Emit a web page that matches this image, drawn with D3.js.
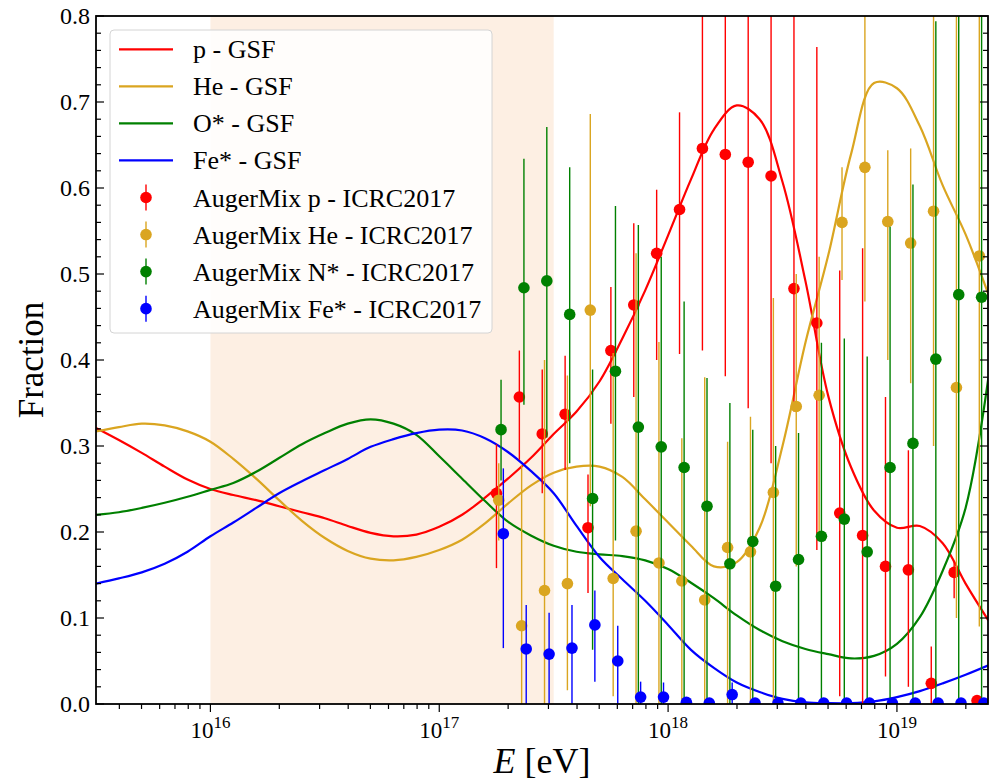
<!DOCTYPE html>
<html>
<head>
<meta charset="utf-8">
<script src="https://cdn.jsdelivr.net/npm/d3@7/dist/d3.min.js"></script>
<style>
  body { margin: 0; background: #fff; }
  text { font-family: "Liberation Serif", "Times New Roman", serif; fill: #000; }
</style>
</head>
<body>
<svg id="chart" width="997" height="780"></svg>
<script>
// ---- GSF model fractions, sampled on a log10(E/eV) grid ----
const gsfLgE = [15.5, 15.6, 15.7, 15.8, 15.9, 16.0, 16.1, 16.2, 16.3, 16.4,
                16.5, 16.6, 16.7, 16.8, 16.9, 17.0, 17.1, 17.2, 17.3, 17.4,
                17.5, 17.6, 17.7, 17.8, 17.9, 18.0, 18.1, 18.2, 18.3, 18.4,
                18.5, 18.6, 18.7, 18.8, 18.9, 19.0, 19.1, 19.2, 19.3, 19.4];
const gsfP  = [0.321, 0.307, 0.292, 0.276, 0.261, 0.250, 0.243, 0.237, 0.230, 0.223,
               0.216, 0.207, 0.199, 0.195, 0.197, 0.206, 0.220, 0.240, 0.262, 0.286,
               0.314, 0.340, 0.375, 0.425, 0.481, 0.545, 0.610, 0.668, 0.696, 0.680,
               0.607, 0.492, 0.358, 0.275, 0.225, 0.205, 0.207, 0.187, 0.140, 0.097];
const gsfHe = [0.317, 0.322, 0.326, 0.324, 0.317, 0.305, 0.285, 0.262, 0.237, 0.213,
               0.193, 0.178, 0.169, 0.167, 0.171, 0.179, 0.191, 0.210, 0.233, 0.254,
               0.269, 0.276, 0.276, 0.264, 0.238, 0.211, 0.184, 0.160, 0.165, 0.205,
               0.300, 0.420, 0.522, 0.640, 0.722, 0.716, 0.672, 0.603, 0.546, 0.476];
const gsfO  = [0.220, 0.223, 0.228, 0.234, 0.241, 0.249, 0.257, 0.270, 0.286, 0.302,
               0.315, 0.326, 0.331, 0.326, 0.313, 0.288, 0.262, 0.236, 0.212, 0.196,
               0.184, 0.177, 0.174, 0.172, 0.167, 0.157, 0.141, 0.123, 0.103, 0.086,
               0.073, 0.064, 0.058, 0.053, 0.056, 0.070, 0.101, 0.155, 0.228, 0.380];
const gsfFe = [0.140, 0.146, 0.153, 0.163, 0.177, 0.195, 0.211, 0.228, 0.245, 0.259,
               0.272, 0.285, 0.299, 0.308, 0.315, 0.319, 0.318, 0.309, 0.293, 0.271,
               0.245, 0.207, 0.171, 0.145, 0.120, 0.092, 0.063, 0.042, 0.025, 0.014,
               0.006, 0.002, 0.001, 0.001, 0.003, 0.008, 0.015, 0.024, 0.034, 0.045];

// ---- AugerMix (ICRC2017) fractions per energy bin ----
const binLgE = [17.25, 17.35, 17.45, 17.55, 17.65, 17.75, 17.85, 17.95, 18.05, 18.15, 18.25,
                18.35, 18.45, 18.55, 18.65, 18.75, 18.85, 18.95, 19.05, 19.15, 19.25, 19.35];

const augerP    = [0.245, 0.357, 0.314, 0.337, 0.205, 0.411, 0.464, 0.524, 0.575, 0.646, 0.639,
                   0.630, 0.614, 0.483, 0.443, 0.222, 0.196, 0.160, 0.156, 0.024, 0.153, 0.004];
const augerPLo  = [0.158, 0.284, 0.245, 0.272, 0.129, 0.326, 0.357, 0.400, 0.407, 0.411, 0.381,
                   0.344, 0.280, 0.340, 0.179, 0.009, 0.000, 0.032, 0.020, 0.000, 0.123, 0.000];
const augerPHi  = [0.302, 0.411, 0.389, 0.405, 0.267, 0.485, 0.559, 0.598, 0.688, 0.900, 0.900,
                   0.900, 0.900, 0.900, 0.764, 0.504, 0.530, 0.357, 0.295, 0.067, 0.166, 0.010];

const augerHe   = [0.237, 0.091, 0.132, 0.140, 0.458, 0.146, 0.201, 0.164, 0.143, 0.121, 0.182,
                   0.177, 0.246, 0.346, 0.359, 0.560, 0.624, 0.561, 0.536, 0.573, 0.368, 0.521];
const augerHeLo = [0.190, 0.000, 0.000, 0.016, 0.230, 0.009, 0.000, 0.000, 0.000, 0.000, 0.000,
                   0.000, 0.000, 0.160, 0.200, 0.493, 0.468, 0.400, 0.373, 0.300, 0.100, 0.090];
const augerHeHi = [0.280, 0.278, 0.400, 0.382, 0.686, 0.408, 0.524, 0.421, 0.309, 0.380, 0.305,
                   0.334, 0.472, 0.500, 0.520, 0.624, 0.900, 0.644, 0.646, 0.900, 0.900, 0.900];

const augerN    = [0.319, 0.484, 0.492, 0.453, 0.239, 0.387, 0.322, 0.299, 0.275, 0.230, 0.163,
                   0.189, 0.137, 0.168, 0.195, 0.215, 0.177, 0.275, 0.303, 0.401, 0.476, 0.473];
const augerNLo  = [0.260, 0.348, 0.310, 0.280, 0.063, 0.190, 0.000, 0.000, 0.000, 0.000, 0.000,
                   0.000, 0.000, 0.000, 0.000, 0.000, 0.000, 0.000, 0.000, 0.000, 0.000, 0.000];
const augerNHi  = [0.377, 0.634, 0.671, 0.624, 0.389, 0.579, 0.557, 0.520, 0.468, 0.379, 0.350,
                   0.319, 0.300, 0.315, 0.420, 0.425, 0.404, 0.555, 0.604, 0.794, 0.900, 0.900];

const augerFe   = [0.198, 0.064, 0.058, 0.065, 0.092, 0.050, 0.008, 0.008, 0.002, 0.001, 0.011,
                   0.001, 0.001, 0.001, 0.001, 0.001, 0.001, 0.001, 0.001, 0.001, 0.001, 0.001];
const augerFeLo = [0.065, 0.000, 0.000, 0.000, 0.026, 0.000, 0.000, 0.000, 0.000, 0.000, 0.000,
                   0.000, 0.000, 0.000, 0.000, 0.000, 0.000, 0.000, 0.000, 0.000, 0.000, 0.000];
const augerFeHi = [0.274, 0.115, 0.106, 0.115, 0.132, 0.091, 0.026, 0.025, 0.008, 0.006, 0.025,
                   0.005, 0.004, 0.004, 0.004, 0.004, 0.004, 0.004, 0.004, 0.004, 0.004, 0.004];

const yTicks = [0.0, 0.1, 0.2, 0.3, 0.4, 0.5, 0.6, 0.7, 0.8];
const xDecades = [16, 17, 18, 19];
const bandLgE = [16.0, 17.5];   // shaded energy band

// ---- layout ----
const svg = d3.select("#chart");
const M = { left: 96, right: 988, top: 16, bottom: 704 };
const x = d3.scaleLog().domain([Math.pow(10, 15.5), 2.5e19]).range([M.left, M.right]);
const y = d3.scaleLinear().domain([0, 0.8]).range([M.bottom, M.top]);

svg.append("defs").append("clipPath").attr("id", "plotClip")
  .append("rect").attr("x", M.left).attr("y", M.top)
  .attr("width", M.right - M.left).attr("height", M.bottom - M.top);

// shaded band
svg.append("rect")
  .attr("x", x(Math.pow(10, bandLgE[0]))).attr("y", M.top)
  .attr("width", x(Math.pow(10, bandLgE[1])) - x(Math.pow(10, bandLgE[0])))
  .attr("height", M.bottom - M.top)
  .attr("fill", "#fdefe3");

const plot = svg.append("g").attr("clip-path", "url(#plotClip)");

// GSF curves
const curves = [
  { vals: gsfP,  color: "#ff0000", label: "p - GSF" },
  { vals: gsfHe, color: "#daa520", label: "He - GSF" },
  { vals: gsfO,  color: "#008000", label: "O* - GSF" },
  { vals: gsfFe, color: "#0000ff", label: "Fe* - GSF" }
];
const line = d3.line()
  .x(d => x(Math.pow(10, d[0])))
  .y(d => y(d[1]))
  .curve(d3.curveCatmullRom.alpha(0.5));
curves.forEach(c => {
  plot.append("path")
    .attr("d", line(gsfLgE.map((e, i) => [e, c.vals[i]])))
    .attr("fill", "none").attr("stroke", c.color).attr("stroke-width", 2.2);
});

// AugerMix points with error bars (small lgE dodge per species)
const series = [
  { v: augerP,  lo: augerPLo,  hi: augerPHi,  color: "#ff0000", dodge: 0.000, label: "AugerMix p - ICRC2017" },
  { v: augerHe, lo: augerHeLo, hi: augerHeHi, color: "#daa520", dodge: 0.010, label: "AugerMix He - ICRC2017" },
  { v: augerN,  lo: augerNLo,  hi: augerNHi,  color: "#008000", dodge: 0.020, label: "AugerMix N* - ICRC2017" },
  { v: augerFe, lo: augerFeLo, hi: augerFeHi, color: "#0000ff", dodge: 0.030, label: "AugerMix Fe* - ICRC2017" }
];
series.forEach(s => {
  const g = plot.append("g");
  const pts = binLgE.map((e, i) => ({ x: x(Math.pow(10, e + s.dodge)), v: s.v[i], lo: s.lo[i], hi: s.hi[i] }));
  g.selectAll("line").data(pts).join("line")
    .attr("x1", d => d.x).attr("x2", d => d.x)
    .attr("y1", d => y(d.lo)).attr("y2", d => y(d.hi))
    .attr("stroke", s.color).attr("stroke-width", 1.4);
  g.selectAll("circle").data(pts).join("circle")
    .attr("cx", d => d.x).attr("cy", d => y(d.v)).attr("r", 5.8)
    .attr("fill", s.color);
});

// ---- axes frame and ticks ----
const axis = svg.append("g");
axis.append("rect").attr("x", M.left).attr("y", M.top)
  .attr("width", M.right - M.left).attr("height", M.bottom - M.top)
  .attr("fill", "none").attr("stroke", "#000").attr("stroke-width", 1.8);

// y ticks, inward on both sides
const yMinor = d3.range(0, 41).map(i => i * 0.02);
yMinor.forEach(v => {
  const major = Math.abs(v * 10 - Math.round(v * 10)) < 1e-6;
  const len = major ? 8 : 5;
  axis.append("line").attr("x1", M.left).attr("x2", M.left + len)
    .attr("y1", y(v)).attr("y2", y(v)).attr("stroke", "#000").attr("stroke-width", 1.2);
  axis.append("line").attr("x1", M.right).attr("x2", M.right - len)
    .attr("y1", y(v)).attr("y2", y(v)).attr("stroke", "#000").attr("stroke-width", 1.2);
});
yTicks.forEach(v => {
  axis.append("text").attr("x", M.left - 6).attr("y", y(v) + 8)
    .attr("text-anchor", "end").attr("font-size", 24).text(v.toFixed(1));
});

// x ticks, outward at bottom
const [d0, d1] = x.domain();
for (let p = 15; p <= 19; p++) {
  for (let m = 1; m <= 9; m++) {
    const v = m * Math.pow(10, p);
    if (v < d0 * 0.999 || v > d1 * 1.001) continue;
    const len = m === 1 ? 8 : 5;
    axis.append("line").attr("x1", x(v)).attr("x2", x(v))
      .attr("y1", M.bottom).attr("y2", M.bottom + len)
      .attr("stroke", "#000").attr("stroke-width", 1.2);
  }
}
xDecades.forEach(p => {
  const t = axis.append("text").attr("x", x(Math.pow(10, p))).attr("y", M.bottom + 34)
    .attr("text-anchor", "middle").attr("font-size", 23);
  t.append("tspan").text("10");
  t.append("tspan").attr("dy", -10).attr("font-size", 17).text(String(p));
});

// axis titles
const xt = svg.append("text").attr("x", (M.left + M.right) / 2).attr("y", 773)
  .attr("text-anchor", "middle").attr("font-size", 36);
xt.append("tspan").attr("font-style", "italic").text("E");
xt.append("tspan").text(" [eV]");
svg.append("text").attr("transform", `translate(43,${(M.top + M.bottom) / 2}) rotate(-90)`)
  .attr("text-anchor", "middle").attr("font-size", 35).text("Fraction");

// ---- legend ----
const lg = svg.append("g");
lg.append("rect").attr("x", 110).attr("y", 30).attr("width", 382).attr("height", 303)
  .attr("rx", 4).attr("fill", "#fff").attr("fill-opacity", 0.85)
  .attr("stroke", "#d4d4d4").attr("stroke-width", 1);
const rowY = i => 49.3 + i * 37.05;
curves.forEach((c, i) => {
  lg.append("line").attr("x1", 119).attr("x2", 173).attr("y1", rowY(i)).attr("y2", rowY(i))
    .attr("stroke", c.color).attr("stroke-width", 2.2);
  lg.append("text").attr("x", 193).attr("y", rowY(i) + 9).attr("font-size", 26).text(c.label);
});
series.forEach((s, j) => {
  const i = j + 4;
  lg.append("line").attr("x1", 146).attr("x2", 146).attr("y1", rowY(i) - 13).attr("y2", rowY(i) + 13)
    .attr("stroke", s.color).attr("stroke-width", 1.4);
  lg.append("circle").attr("cx", 146).attr("cy", rowY(i)).attr("r", 5.8).attr("fill", s.color);
  lg.append("text").attr("x", 193).attr("y", rowY(i) + 9).attr("font-size", 26).text(s.label);
});
</script>
</body>
</html>
